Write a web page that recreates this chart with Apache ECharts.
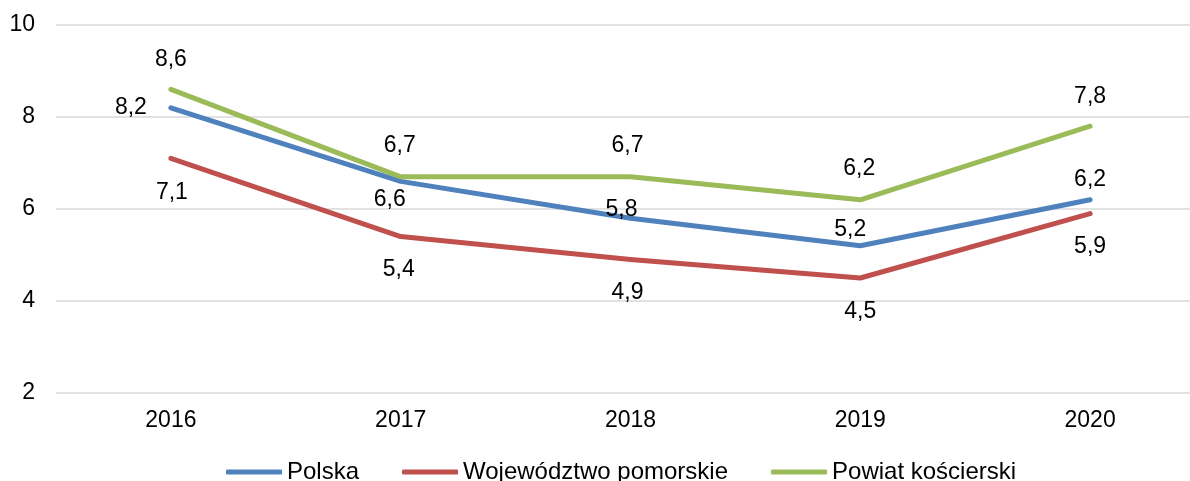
<!DOCTYPE html>
<html>
<head>
<meta charset="utf-8">
<script src="https://cdn.jsdelivr.net/npm/echarts@6/dist/echarts.min.js"></script>
<style>
html, body { margin: 0; padding: 0; background: #fff; overflow: hidden; }
/* plot area runs a little past the right edge, as in the source picture */
#chart { width: 1205px; height: 481px; }
</style>
</head>
<body>
<div id="chart"></div>
<script>
const years = ['2016', '2017', '2018', '2019', '2020'];
const polska = [8.2, 6.6, 5.8, 5.2, 6.2];
const pomorskie = [7.1, 5.4, 4.9, 4.5, 5.9];
const koscierski = [8.6, 6.7, 6.7, 6.2, 7.8];

const font = 'Liberation Sans, Arial, sans-serif';
const color = {
    polska: '#4F81BD',
    pomorskie: '#C0504D',
    koscierski: '#9BBB59',
    grid: '#D9D9D9',
    text: '#000000',
};
// label offsets from each point (style, not data)
const labelShift = {
    polska: [[-40, 0], [-11, 18], [-9, -9], [-10, -16], [0, -20]],
    pomorskie: [[1, 34], [-2, 33], [-3, 33], [0, 34], [0, 33]],
    koscierski: [[0, -30], [-1, -31], [-3, -31], [-1, -31], [0, -30]],
};
const fmt = v => v.toFixed(1).replace('.', ',');

const makeSeries = function (name, key, values) {
    return {
        type: 'line',
        name: name,
        data: values.map((v, i) => ({
            value: v,
            label: { offset: labelShift[key][i] },
        })),
        symbol: 'circle',
        symbolSize: 1,
        showSymbol: true,
        itemStyle: { color: color[key] },
        lineStyle: { color: color[key], width: 5, cap: 'round', join: 'round' },
        label: {
            show: true,
            position: 'inside',
            color: color.text,
            fontFamily: font,
            fontSize: 23,
            formatter: p => fmt(p.value),
        },
        animation: false,
    };
};

const chart = echarts.init(document.getElementById('chart'), null, { renderer: 'canvas' });
chart.setOption({
    backgroundColor: '#fff',
    animation: false,
    grid: {
        left: 56,
        right: 0,
        top: 25,
        bottom: 88,
        containLabel: false,
    },
    legend: {
        left: 226,
        top: 460,
        padding: 0,
        itemGap: 43,
        itemWidth: 56,
        itemHeight: 5,
        icon: 'roundRect',
        textStyle: { color: color.text, fontFamily: font, fontSize: 24 },
        data: ['Polska', 'Województwo pomorskie', 'Powiat kościerski'],
    },
    xAxis: {
        type: 'category',
        boundaryGap: true,
        data: years,
        axisLine: { show: false },
        axisTick: { show: false },
        axisLabel: { color: color.text, fontFamily: font, fontSize: 23, margin: 16 },
        splitLine: { show: false },
    },
    yAxis: {
        type: 'value',
        min: 2,
        max: 10,
        interval: 2,
        axisLine: { show: false },
        axisTick: { show: false },
        axisLabel: { color: color.text, fontFamily: font, fontSize: 23, margin: 21 },
        splitLine: { show: true, lineStyle: { color: color.grid, width: 1.5 } },
    },
    series: [
        makeSeries('Polska', 'polska', polska),
        makeSeries('Województwo pomorskie', 'pomorskie', pomorskie),
        makeSeries('Powiat kościerski', 'koscierski', koscierski),
    ],
});
</script>
</body>
</html>
